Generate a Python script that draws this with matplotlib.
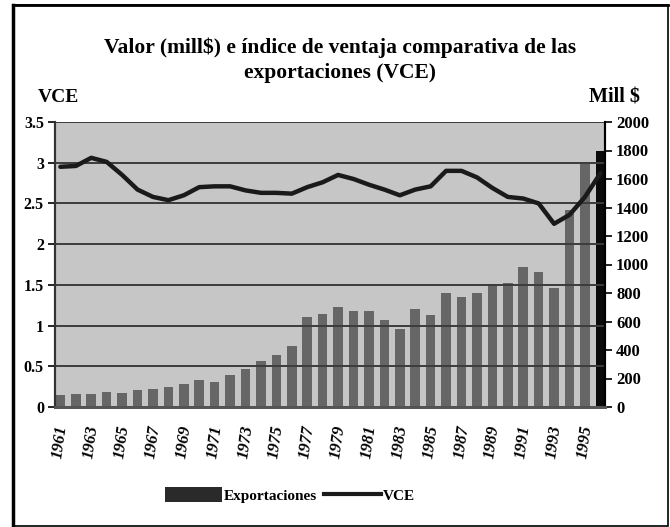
import matplotlib
matplotlib.use("Agg")
import matplotlib.pyplot as plt
from matplotlib.patches import Rectangle, Patch
from matplotlib.lines import Line2D

years = list(range(1961, 1997))
exportaciones = [84, 90, 88, 105, 100, 119, 126, 138, 161, 189, 178, 228,
                 266, 320, 365, 430, 634, 655, 702, 672, 672, 611, 550, 687,
                 648, 798, 774, 802, 861, 873, 980, 950, 833, 1382, 1715, 1800]
vce = [2.95, 2.96, 3.06, 3.01, 2.85, 2.67, 2.58, 2.54, 2.60, 2.70, 2.71, 2.71,
       2.66, 2.63, 2.63, 2.62, 2.70, 2.76, 2.85, 2.80, 2.73, 2.67, 2.60, 2.67,
       2.71, 2.90, 2.90, 2.82, 2.69, 2.58, 2.56, 2.50, 2.25, 2.36, 2.58, 2.87]
tick_years = [str(y) for y in range(1961, 1996, 2)]
left_ticks = [0, 0.5, 1, 1.5, 2, 2.5, 3, 3.5]
left_labels = ["0", "0.5", "1", "1.5", "2", "2.5", "3", "3.5"]
right_ticks = list(range(0, 2001, 200))

W, H = 670, 527
fig = plt.figure(figsize=(W / 100, H / 100), dpi=100)
serif = ["Liberation Serif", "DejaVu Serif"]
plt.rcParams['font.family'] = serif

# border
fig.add_artist(Rectangle((13 / W, 1 - 526 / H), (668 - 13) / W, (526 - 5) / H,
                         transform=fig.transFigure, fill=False, edgecolor="black", lw=1.2))
fig.add_artist(Line2D([13 / W, 13 / W], [1 - 526 / H, 1 - 5 / H], transform=fig.transFigure,
                      color="black", lw=2.5))
fig.add_artist(Line2D([13 / W, 668 / W], [1 - 5 / H, 1 - 5 / H], transform=fig.transFigure,
                      color="black", lw=2.0))

left, right, top, bottom = 55, 605, 122, 407
axb = fig.add_axes([left / W, 1 - bottom / H, (right - left) / W, (bottom - top) / H])
axl = axb.twinx()

x = list(range(len(years)))
colors = ["#666666"] * (len(years) - 1) + ["#0a0a0a"]
axb.bar(x, exportaciones, width=0.62, color=colors, zorder=2)
axb.set_ylim(0, 2000)
axb.set_xlim(-0.35, 35.3)
axb.set_facecolor("#c6c6c6")
axb.yaxis.tick_right()
axb.set_yticks(right_ticks)
axb.set_yticklabels([str(v) for v in right_ticks], fontsize=12, fontweight="bold")
axb.tick_params(axis="y", direction="out", length=5, width=1.2, pad=3)

axl.set_zorder(axb.get_zorder() + 1)
axl.patch.set_visible(False)
axl.plot(x, vce, color="#1a1a1a", lw=3.2, solid_capstyle="round", solid_joinstyle="round", zorder=5)
axl.set_ylim(0, 3.5)
axl.yaxis.tick_left()
axl.set_yticks(left_ticks)
axl.set_yticklabels(left_labels, fontsize=11.5, fontweight="bold")
axl.tick_params(axis="y", direction="out", length=5, width=1.2, pad=3)
axl.grid(axis="y", color="#3c3c3c", lw=1.4, zorder=1)

tick_pos = [years.index(int(t)) for t in tick_years]
axb.set_xticks(tick_pos)
axb.set_xticklabels(tick_years, rotation=82, fontsize=12, fontweight="bold", style="italic",
                    ha="center", va="top")
axb.tick_params(axis="x", length=0, pad=12)

for a in (axb, axl):
    a.spines["top"].set_visible(False)
    a.spines["left"].set_color("#333333")
    a.spines["left"].set_linewidth(1.5)
    a.spines["bottom"].set_color("#555555")
    a.spines["bottom"].set_linewidth(2)
    a.spines["right"].set_color("black")
    a.spines["right"].set_linewidth(1.5)

fig.text(340 / W, 1 - 48 / H, "Valor (mill$) e índice de ventaja comparativa de las",
         ha="center", va="center", fontsize=15.5, fontweight="bold")
fig.text(340 / W, 1 - 73 / H, "exportaciones (VCE)",
         ha="center", va="center", fontsize=15.5, fontweight="bold")
fig.text(38 / W, 1 - 98 / H, "VCE", ha="left", va="center", fontsize=14, fontweight="bold")
fig.text(640 / W, 1 - 98 / H, "Mill $", ha="right", va="center", fontsize=14.5, fontweight="bold")

handles = [Patch(facecolor="#2a2a2a", edgecolor="none"),
           Line2D([0], [0], color="#1a1a1a", lw=3)]
fig.legend(handles, ["Exportaciones", "VCE"], loc="center", bbox_to_anchor=(290 / W, 1 - 495 / H),
           ncol=2, frameon=False, prop={"weight": "bold", "size": 11}, handlelength=3.7,
           handletextpad=0.1, columnspacing=0.5, handleheight=1.1)

fig.savefig("out.png", dpi=100)
